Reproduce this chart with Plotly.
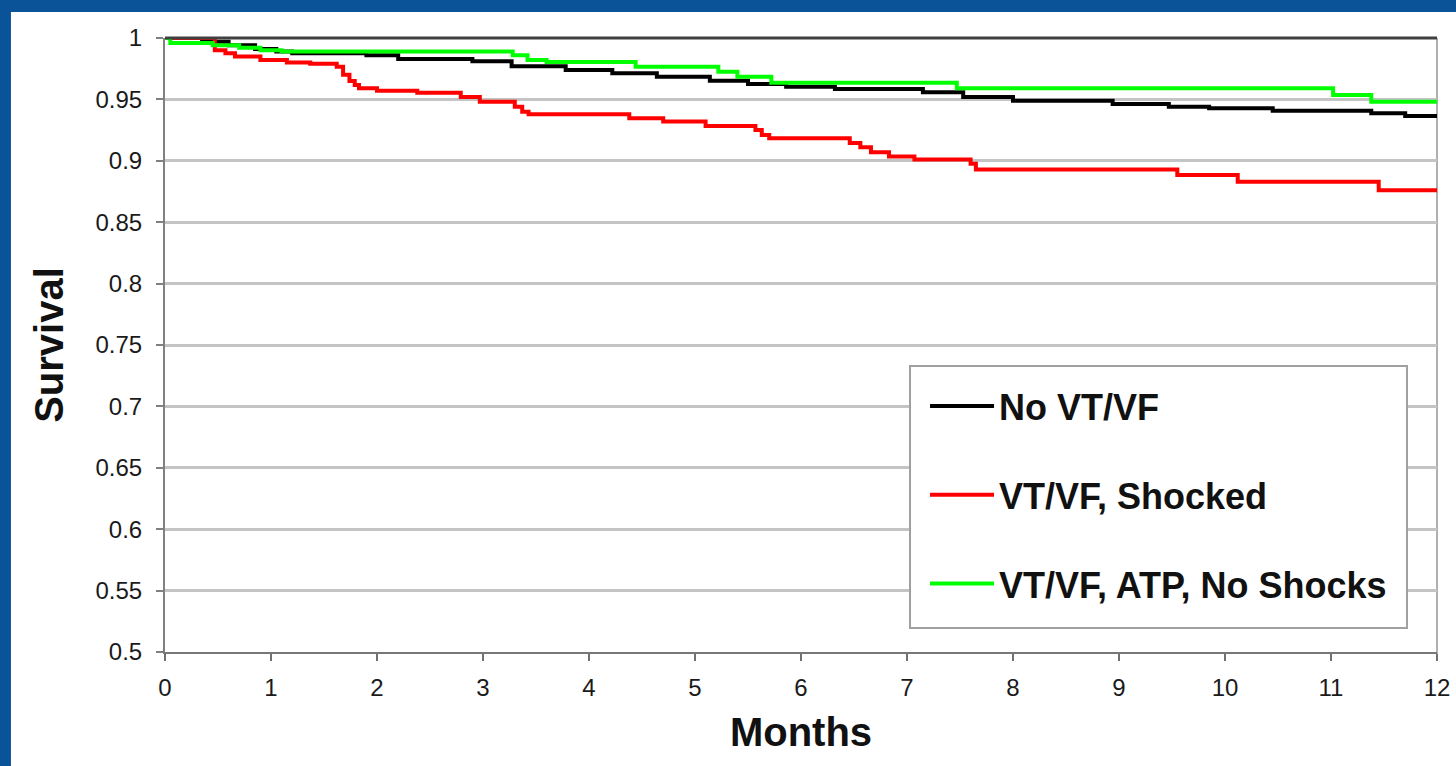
import plotly.graph_objects as go

# Kaplan-Meier style survival curves
no_vtvf_months = [0, 0.35, 0.6, 0.85, 1.05, 1.2, 1.9, 2.2, 2.9, 3.27, 3.78, 4.22, 4.64,
                  5.14, 5.5, 5.86, 6.32, 7.15, 7.53, 8.0, 8.94, 9.47, 9.85, 10.45,
                  11.38, 11.7, 12]
no_vtvf_surv = [1.0, 0.997, 0.994, 0.991, 0.989, 0.9875, 0.986, 0.983, 0.981, 0.977,
                0.974, 0.9712, 0.9685, 0.9652, 0.9625, 0.9604, 0.9585, 0.9558, 0.952,
                0.949, 0.9463, 0.944, 0.9427, 0.9408, 0.9387, 0.9365, 0.9365]

shocked_months = [0, 0.47, 0.57, 0.66, 0.9, 1.15, 1.37, 1.62, 1.68, 1.74, 1.79, 1.83,
                  2.0, 2.38, 2.79, 2.97, 3.3, 3.37, 3.43, 4.38, 4.7, 5.1, 5.57, 5.63,
                  5.7, 6.46, 6.56, 6.66, 6.83, 7.07, 7.6, 7.65, 9.55, 10.12, 11.45, 12]
shocked_surv = [1.0, 0.990, 0.9875, 0.985, 0.982, 0.980, 0.979, 0.9766, 0.970, 0.965,
                0.9617, 0.959, 0.957, 0.9555, 0.952, 0.948, 0.944, 0.940, 0.938, 0.9346,
                0.932, 0.9283, 0.925, 0.921, 0.9183, 0.9145, 0.911, 0.907, 0.9034, 0.901,
                0.8975, 0.893, 0.8884, 0.883, 0.876, 0.876]

atp_months = [0, 0.05, 0.45, 0.7, 0.9, 1.1, 3.28, 3.42, 3.6, 4.44, 5.22, 5.4, 5.72,
              7.47, 11.02, 11.38, 12]
atp_surv = [1.0, 0.996, 0.994, 0.992, 0.990, 0.989, 0.986, 0.982, 0.9805, 0.9766,
            0.9726, 0.9685, 0.9636, 0.959, 0.9536, 0.948, 0.948]

x_ticks = list(range(0, 13))
y_ticks = [0.5, 0.55, 0.6, 0.65, 0.7, 0.75, 0.8, 0.85, 0.9, 0.95, 1.0]
y_tick_labels = ["0.5", "0.55", "0.6", "0.65", "0.7", "0.75", "0.8", "0.85", "0.9", "0.95", "1"]

FONT = "Liberation Sans, Arial, sans-serif"
BLUE = "#0a5399"

fig = go.Figure()

series = [
    ("No VT/VF", no_vtvf_months, no_vtvf_surv, "#000000"),
    ("VT/VF, Shocked", shocked_months, shocked_surv, "#ff0000"),
    ("VT/VF, ATP, No Shocks", atp_months, atp_surv, "#00ff00"),
]
for name, xs, ys, color in series:
    fig.add_trace(go.Scatter(
        x=xs, y=ys, name=name, mode="lines",
        line=dict(color=color, width=4, shape="hv"),
        legendgroup=name,
    ))

fig.update_layout(
    width=1456, height=766,
    margin=dict(l=165, r=19, t=38, b=114),
    paper_bgcolor="white",
    plot_bgcolor="white",
    font=dict(family=FONT, color="#111111"),
    showlegend=True,
    legend=dict(
        x=0.5975, y=0.4495, xanchor="left", yanchor="top",
        bgcolor="rgba(0,0,0,0)", borderwidth=0,
        font=dict(family=FONT, size=36, color="#111111", weight="bold"),
        itemwidth=64, tracegroupgap=39, traceorder="grouped",
    ),
    shapes=[
        # dark top frame line and light right frame line
        dict(type="line", xref="paper", yref="paper", x0=0, x1=1, y0=1, y1=1,
             line=dict(color="#404040", width=3), layer="above"),
        dict(type="line", xref="paper", yref="paper", x0=1, x1=1, y0=-0.012, y1=1,
             line=dict(color="#b0b0b0", width=2), layer="below"),
        # legend box
        dict(type="rect", xref="paper", yref="paper", x0=0.5857, x1=0.9764,
             y0=0.0391, y1=0.4658, fillcolor="white",
             line=dict(color="#a0a0a0", width=2), layer="above"),
        # blue slide border (left and top)
        dict(type="rect", xref="paper", yref="paper", x0=-0.2, x1=-0.1211, y0=-0.3, y1=1.2,
             fillcolor=BLUE, line=dict(width=0), layer="above"),
        dict(type="rect", xref="paper", yref="paper", x0=-0.2, x1=1.2, y0=1.0423, y1=1.2,
             fillcolor=BLUE, line=dict(width=0), layer="above"),
    ],
)

fig.update_xaxes(
    range=[0, 12], tickvals=x_ticks, automargin=False,
    showgrid=False, zeroline=False,
    showline=True, linecolor="#787878", linewidth=2,
    ticks="outside", ticklen=7, tickwidth=2, tickcolor="#707070",
    tickfont=dict(family=FONT, size=24, color="#1a1a1a"),
    ticklabelstandoff=6,
    title=dict(text="Months", font=dict(family=FONT, size=40, color="#111111", weight="bold"),
               standoff=18),
)
fig.update_yaxes(
    range=[0.5, 1.0], tickvals=y_ticks, ticktext=y_tick_labels, automargin=False,
    showgrid=True, gridcolor="#c4c4c4", gridwidth=2.5, zeroline=False,
    showline=True, linecolor="#808080", linewidth=2,
    ticks="outside", ticklen=7, tickwidth=2, tickcolor="#808080",
    tickfont=dict(family=FONT, size=24, color="#1a1a1a"),
    ticklabelstandoff=9,
    title=dict(text="Survival", font=dict(family=FONT, size=40, color="#111111", weight="bold"),
               standoff=19),
)

# drop the browser's default 8px page margin so the figure fills the window
fig.write_html("out.html", config={"displayModeBar": False},
               post_script="document.body.style.margin = '0';")
